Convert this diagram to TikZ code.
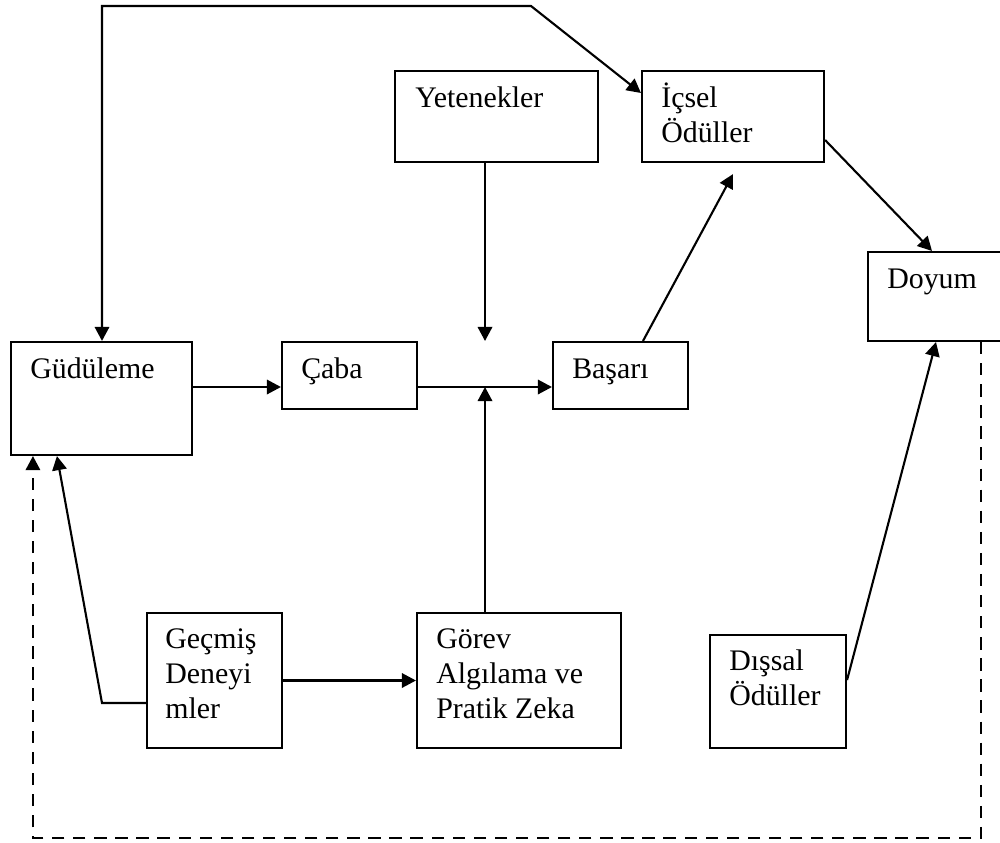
\documentclass[tikz,border=0pt]{standalone}
\usepackage{fontspec}
\setmainfont{Liberation Serif}
\usetikzlibrary{arrows.meta,fit,calc}
\begin{document}
\begin{tikzpicture}[x=0.02cm,y=-0.02cm,
  box/.style={draw, line width=1.2pt, inner sep=0pt},
  txt/.style={anchor=base west, inner sep=0pt, font=\fontsize{17}{19.84}\selectfont},
  arr/.style={line width=1.2pt, -{Triangle[length=8pt,width=8.2pt]}},
  dblarr/.style={line width=1.2pt, {Triangle[length=8pt,width=8.2pt]}-{Triangle[length=8pt,width=8.2pt]}},
  fb/.style={arr, dash pattern=on 7pt off 5pt}]
\useasboundingbox (0,0) rectangle (1000,842);
\clip (0,0) rectangle (1000,842);

% boxes
\node[box, fit={(11,342) (192,455)}] (gud) {};
\node[box, fit={(282,342) (417,409)}] (caba) {};
\node[box, fit={(553,342) (688,409)}] (bas) {};
\node[box, fit={(395,71) (598,162)}] (yet) {};
\node[box, fit={(642,71) (824,162)}] (ics) {};
\node[box, fit={(868,252) (1015,341)}] (doy) {};
\node[box, fit={(147,613) (282,748)}] (gec) {};
\node[box, fit={(417,613) (621,748)}] (gor) {};
\node[box, fit={(710,635) (846,748)}] (dis) {};

% labels
\node[txt] (gudt) at ($(gud.north west)+(20,38)$) {Güdüleme};
\node[txt] (cabat) at ($(caba.north west)+(20,38)$) {Çaba};
\node[txt] (bast) at ($(bas.north west)+(20,38)$) {Başarı};
\node[txt] (yett) at ($(yet.north west)+(21,38)$) {Yetenekler};
\node[txt] (icst) at ($(ics.north west)+(20,38)$) {\begin{tabular}[t]{@{}l@{}}İçsel\\Ödüller\end{tabular}};
\node[txt] (doyt) at ($(doy.north west)+(20,38)$) {Doyum};
\node[txt] (gect) at ($(gec.north west)+(19,37)$) {\begin{tabular}[t]{@{}l@{}}Geçmiş\\Deneyi\\mler\end{tabular}};
\node[txt] (gort) at ($(gor.north west)+(20,37)$) {\begin{tabular}[t]{@{}l@{}}Görev\\Algılama ve\\Pratik Zeka\end{tabular}};
\node[txt] (dist) at ($(dis.north west)+(20,37)$) {\begin{tabular}[t]{@{}l@{}}Dışsal\\Ödüller\end{tabular}};

% junction in front of Başarı
\coordinate (jn) at (485,387);
\draw[arr] (gud.east |- jn) -- (caba.west |- jn);
\draw[arr] (caba.east |- jn) -- (bas.west |- jn);
\draw[arr] (yet.south -| jn) -- ($(jn)+(0,-46)$);
\draw[arr] (gor.north -| jn) -- (jn);

% past experience
\draw[arr] (gec.east) -- (gor.west);
\coordinate (gk) at (102,703);
\draw[arr] (gec.west |- gk) -- (gk) -- ($(gud.south west)+(47,0)$);

% feedback from satisfaction (dashed)
\coordinate (dk) at (981,838);
\coordinate (gdash) at ($(gud.south west)+(23,0)$);
\draw[fb] (doy.south -| dk) -- (dk) -- (gdash |- dk) -- (gdash);

% top loop between motivation and intrinsic rewards
\coordinate (tk) at (102,6);
\coordinate (tk2) at (531,6);
\draw[dblarr] (gud.north -| tk) -- (tk) -- (tk2) -- (ics.west |- 0,93);

% rewards and satisfaction
\draw[arr] (bas.north -| 643,0) -- ($(ics.south)+(0,11)$);
\draw[arr] (ics.east |- 0,140) -- (doy.north -| 932,0);
\draw[arr] (dis.east |- 0,680) -- (doy.south -| 936,0);
\end{tikzpicture}
\end{document}
